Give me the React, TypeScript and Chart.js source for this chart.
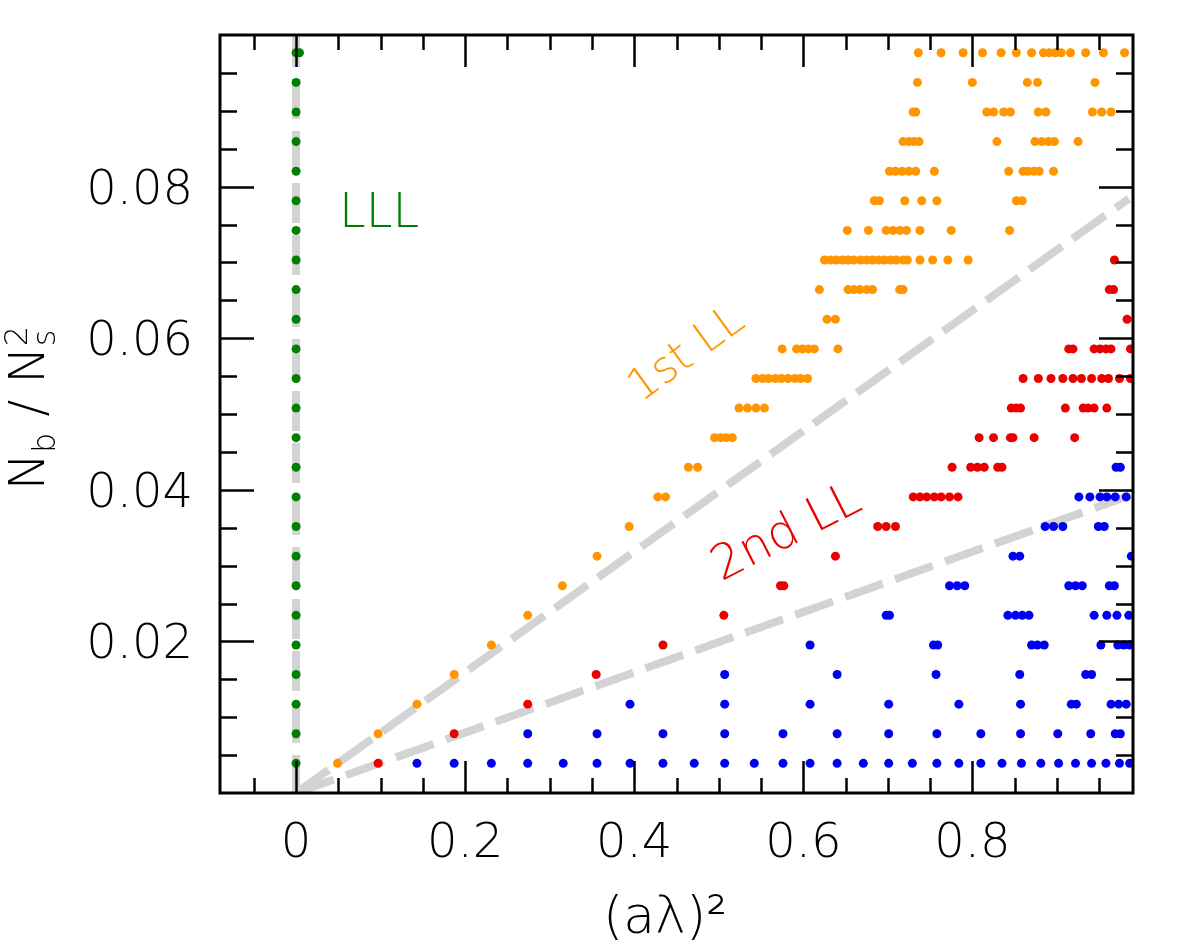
import React, { useEffect, useRef } from 'react';
import { Chart, registerables } from 'chart.js';

Chart.register(...registerables);

// N_b / N_s^2 levels (N_b = 1..25, N_s = 16)
const levelY = [
  0.00391, 0.00781, 0.01172, 0.01563, 0.01953, 0.02344, 0.02734, 0.03125, 0.03516, 0.03906,
  0.04297, 0.04688, 0.05078, 0.05469, 0.05859, 0.0625, 0.06641, 0.07031, 0.07422, 0.07813,
  0.08203, 0.08594, 0.08984, 0.09375, 0.09766,
];

// (a lambda)^2 values per level, LLL (green)
const greenX: number[][] = [
  [0], [0], [0], [0], [0], [0], [0], [0], [0], [0], [0], [0], [0], [0], [0], [0], [0], [0], [0], [0],
  [0], [0], [0], [0], [0, 0.004],
];

// 1st LL (orange)
const orangeX: number[][] = [
  [0.049],
  [0.097],
  [0.143],
  [0.187],
  [0.231],
  [0.274],
  [0.315],
  [0.356],
  [0.394],
  [0.428, 0.437],
  [0.464, 0.475],
  [0.495, 0.502, 0.509, 0.516],
  [0.524, 0.534, 0.544, 0.554],
  [0.544, 0.552, 0.559, 0.567, 0.574, 0.582, 0.59, 0.597, 0.605],
  [0.575, 0.592, 0.599, 0.606, 0.613, 0.641],
  [0.628, 0.638],
  [0.619, 0.653, 0.66, 0.667, 0.675, 0.682, 0.714, 0.718],
  [0.625, 0.632, 0.639, 0.646, 0.653, 0.66, 0.668, 0.675, 0.682, 0.689, 0.696, 0.703, 0.71, 0.718, 0.723, 0.738, 0.753, 0.771, 0.795],
  [0.652, 0.677, 0.698, 0.706, 0.714, 0.722, 0.738, 0.775, 0.844],
  [0.684, 0.69, 0.72, 0.74, 0.758, 0.852, 0.859],
  [0.702, 0.709, 0.717, 0.725, 0.733, 0.755, 0.843, 0.86, 0.866, 0.873, 0.879, 0.896],
  [0.718, 0.725, 0.731, 0.737, 0.829, 0.874, 0.882, 0.89, 0.897, 0.925],
  [0.73, 0.733, 0.817, 0.825, 0.837, 0.845, 0.878, 0.887, 0.942, 0.953, 0.964],
  [0.735, 0.8, 0.865, 0.877, 0.945],
  [0.736, 0.763, 0.789, 0.812, 0.834, 0.852, 0.87, 0.884, 0.891, 0.898, 0.905, 0.916, 0.934, 0.955, 0.98],
];

// 2nd LL (red)
const redX: number[][] = [
  [0.097],
  [0.187],
  [0.274],
  [0.355],
  [0.434],
  [0.506],
  [0.573, 0.577],
  [0.638],
  [0.688, 0.698, 0.709],
  [0.73, 0.738, 0.746, 0.755, 0.763, 0.773, 0.783],
  [0.776, 0.798, 0.806, 0.814, 0.83, 0.835],
  [0.808, 0.825, 0.845, 0.848, 0.873, 0.921],
  [0.846, 0.852, 0.857, 0.91, 0.931, 0.937, 0.944, 0.959],
  [0.86, 0.878, 0.893, 0.907, 0.919, 0.929, 0.941, 0.953, 0.961, 0.974, 0.987],
  [0.914, 0.919, 0.944, 0.951, 0.958, 0.964, 0.987],
  [0.983],
  [0.962, 0.967],
  [0.968],
  [], [], [], [], [], [], [],
];

// higher LLs (blue)
const blueX: number[][] = [
  [0.143, 0.187, 0.231, 0.274, 0.316, 0.356, 0.395, 0.434, 0.471, 0.507, 0.542, 0.576, 0.608, 0.64, 0.671, 0.701, 0.729, 0.758, 0.784, 0.81, 0.835, 0.858, 0.881, 0.902, 0.922, 0.941, 0.958, 0.974, 0.986],
  [0.274, 0.356, 0.434, 0.507, 0.576, 0.64, 0.701, 0.758, 0.81, 0.857, 0.901, 0.94, 0.969, 0.975],
  [0.395, 0.507, 0.608, 0.701, 0.784, 0.857, 0.917, 0.923, 0.964, 0.973, 0.982],
  [0.507, 0.64, 0.757, 0.856, 0.934, 0.941],
  [0.608, 0.754, 0.759, 0.87, 0.877, 0.885, 0.952, 0.972, 0.979, 0.986],
  [0.698, 0.702, 0.842, 0.851, 0.859, 0.867, 0.944, 0.959, 0.971, 0.985],
  [0.773, 0.782, 0.791, 0.914, 0.922, 0.93, 0.962, 0.968],
  [0.848, 0.856, 0.988],
  [0.886, 0.896, 0.907, 0.949, 0.956],
  [0.926, 0.939, 0.951, 0.959, 0.969, 0.982],
  [0.97, 0.975],
  [], [], [], [], [], [], [], [], [], [], [], [], [], [],
];

// guide lines
const guideX = [0, 0.985];
const firstLLY = [0, 0.0784];
const secondLLY = [0, 0.0392];
const lllX = [0, 0];
const lllY = [0.1, 0];

// axes
const xRange = [-0.09, 0.99];
const yRange = [0, 0.1];
const xMajorTicks = [0, 0.2, 0.4, 0.6, 0.8];
const xTickLabels = ['0', '0.2', '0.4', '0.6', '0.8'];
const xMinorTicks = [-0.05, 0.05, 0.1, 0.15, 0.25, 0.3, 0.35, 0.45, 0.5, 0.55, 0.65, 0.7, 0.75, 0.85, 0.9, 0.95];
const yMajorTicks = [0.02, 0.04, 0.06, 0.08];
const yTickLabels = ['0.02', '0.04', '0.06', '0.08'];
const yMinorTicks = [0.005, 0.01, 0.015, 0.025, 0.03, 0.035, 0.045, 0.05, 0.055, 0.065, 0.07, 0.075, 0.085, 0.09, 0.095];

const FONT = '"DejaVu Sans", "Noto Sans", sans-serif';
const W = '200';

const toPoints = (rows: number[][]) =>
  rows.flatMap((xs, i) => xs.map((x) => ({ x, y: levelY[i] })));

const linePoints = (xs: number[], ys: number[]) => xs.map((x, i) => ({ x, y: ys[i] }));

const decorPlugin = {
  id: 'decor',
  afterDatasetsDraw(chart: any) {
    const { ctx, chartArea: a, scales } = chart;
    const xs = scales.x;
    const ys = scales.y;
    ctx.save();
    // frame
    ctx.strokeStyle = '#000';
    ctx.lineWidth = 3;
    ctx.strokeRect(a.left, a.top, a.right - a.left, a.bottom - a.top);
    // ticks
    ctx.lineWidth = 2.5;
    ctx.beginPath();
    const xTick = (v: number, len: number) => {
      const p = Math.round(xs.getPixelForValue(v)) + 0.5;
      ctx.moveTo(p, a.bottom);
      ctx.lineTo(p, a.bottom - len);
      ctx.moveTo(p, a.top);
      ctx.lineTo(p, a.top + len);
    };
    const yTick = (v: number, len: number) => {
      const p = Math.round(ys.getPixelForValue(v)) + 0.5;
      ctx.moveTo(a.left, p);
      ctx.lineTo(a.left + len, p);
      ctx.moveTo(a.right, p);
      ctx.lineTo(a.right - len, p);
    };
    xMajorTicks.forEach((v) => xTick(v, 32));
    xMinorTicks.forEach((v) => xTick(v, 15));
    yMajorTicks.forEach((v) => yTick(v, 34));
    yMinorTicks.forEach((v) => yTick(v, 17));
    ctx.stroke();

    // tick labels
    ctx.fillStyle = '#000';
    ctx.font = `${W} 48px ${FONT}`;
    ctx.textBaseline = 'alphabetic';
    ctx.textAlign = 'center';
    xMajorTicks.forEach((v, i) => ctx.fillText(xTickLabels[i], xs.getPixelForValue(v), a.bottom + 64));
    ctx.textAlign = 'right';
    yMajorTicks.forEach((v, i) => ctx.fillText(yTickLabels[i], a.left - 27, ys.getPixelForValue(v) + 17));

    // x title
    ctx.textAlign = 'center';
    ctx.font = `${W} 52px ${FONT}`;
    ctx.fillText('(aλ)²', 665, 933);

    // y title (rotated)
    ctx.save();
    ctx.translate(44, 410);
    ctx.rotate(-Math.PI / 2);
    const big = `${W} 50px ${FONT}`;
    const small = `${W} 32px ${FONT}`;
    ctx.font = big;
    const wN = ctx.measureText('N').width;
    const wSlash = ctx.measureText('/').width;
    ctx.font = small;
    const wb = ctx.measureText('b').width;
    const ws = ctx.measureText('s').width;
    const gap = 16;
    const total = wN + wb + gap + wSlash + gap + wN + ws;
    let cx = -total / 2;
    ctx.textAlign = 'left';
    ctx.font = big;
    ctx.fillText('N', cx, 0);
    cx += wN;
    ctx.font = small;
    ctx.fillText('b', cx, 11);
    cx += wb + gap;
    ctx.font = big;
    ctx.fillText('/', cx, 0);
    cx += wSlash + gap;
    ctx.fillText('N', cx, 0);
    cx += wN;
    ctx.font = small;
    ctx.fillText('s', cx, 11);
    ctx.fillText('2', cx, -17);
    ctx.restore();

    // annotations
    ctx.font = `${W} 48px ${FONT}`;
    ctx.fillStyle = 'rgb(0,128,0)';
    ctx.textAlign = 'left';
    ctx.fillText('LLL', 339, 227);

    ctx.save();
    ctx.translate(687, 355);
    ctx.rotate((-36 * Math.PI) / 180);
    ctx.font = `${W} 44px ${FONT}`;
    ctx.fillStyle = 'rgb(255,150,0)';
    ctx.textAlign = 'center';
    ctx.textBaseline = 'middle';
    ctx.fillText('1st LL', 0, 0);
    ctx.restore();

    ctx.save();
    ctx.translate(787, 534);
    ctx.rotate((-27 * Math.PI) / 180);
    ctx.font = `${W} 48px ${FONT}`;
    ctx.fillStyle = 'rgb(235,0,0)';
    ctx.textAlign = 'center';
    ctx.textBaseline = 'middle';
    ctx.fillText('2nd LL', 0, 0);
    ctx.restore();

    ctx.restore();
  },
};

export default function App() {
  const canvasRef = useRef<HTMLCanvasElement | null>(null);

  useEffect(() => {
    const canvas = canvasRef.current;
    if (!canvas) return;
    const pointStyle = { pointRadius: 4.5, borderWidth: 0, pointBorderWidth: 0, showLine: false, order: 1 };
    const guideStyle = {
      showLine: true,
      pointRadius: 0,
      borderColor: 'rgb(211,211,211)',
      borderWidth: 8,
      borderCapStyle: 'butt',
      fill: false,
      order: 5,
    };
    const chart = new Chart(canvas, {
      type: 'scatter',
      data: {
        datasets: [
          { label: 'LLL', data: toPoints(greenX), backgroundColor: 'rgb(0,128,0)', pointBackgroundColor: 'rgb(0,128,0)', ...pointStyle },
          { label: '1st LL', data: toPoints(orangeX), backgroundColor: 'rgb(255,150,0)', pointBackgroundColor: 'rgb(255,150,0)', ...pointStyle },
          { label: '2nd LL', data: toPoints(redX), backgroundColor: 'rgb(235,0,0)', pointBackgroundColor: 'rgb(235,0,0)', ...pointStyle },
          { label: 'higher', data: toPoints(blueX), backgroundColor: 'rgb(0,0,240)', pointBackgroundColor: 'rgb(0,0,240)', ...pointStyle },
          { label: 'LLL line', data: linePoints(lllX, lllY), borderDash: [40, 12], borderDashOffset: 8, ...guideStyle },
          { label: '1st LL line', data: linePoints(guideX, firstLLY), borderDash: [40, 13], ...guideStyle },
          { label: '2nd LL line', data: linePoints(guideX, secondLLY), borderDash: [40, 13], ...guideStyle },
        ] as any,
      },
      options: {
        responsive: false,
        animation: false,
        devicePixelRatio: 1,
        layout: { padding: { left: 220, top: 35, right: 63, bottom: 157 } },
        scales: {
          x: { type: 'linear', min: xRange[0], max: xRange[1], display: false },
          y: { type: 'linear', min: yRange[0], max: yRange[1], display: false },
        },
        plugins: { legend: { display: false }, tooltip: { enabled: false } },
      },
      plugins: [decorPlugin],
    } as any);
    return () => chart.destroy();
  }, []);

  return (
    <div style={{ position: 'absolute', left: 0, top: 0, width: 1196, height: 950, background: '#fff' }}>
      <canvas ref={canvasRef} width={1196} height={950} style={{ display: 'block' }} />
    </div>
  );
}
